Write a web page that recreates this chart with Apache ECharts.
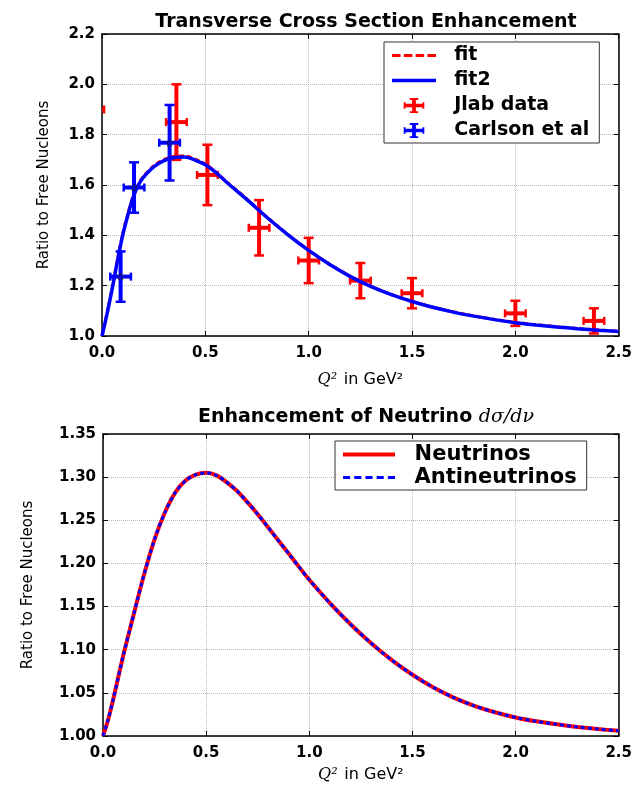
<!DOCTYPE html>
<html>
<head>
<meta charset="utf-8">
<script src="https://cdn.jsdelivr.net/npm/echarts@6.0.0/dist/echarts.min.js"></script>
<style>
html, body { margin: 0; padding: 0; background: #fff; }
#main { width: 635px; height: 790px; }
</style>
</head>
<body>
<div id="main"></div>
<script>
// top panel: measured points
var jlabQ2 = [-0.04, 0.36, 0.51, 0.76, 1.0, 1.25, 1.5, 2.0, 2.38];
var jlabRatio = [1.90, 1.85, 1.64, 1.43, 1.30, 1.22, 1.17, 1.09, 1.06];
var jlabQ2Err = [0.05, 0.05, 0.05, 0.05, 0.05, 0.05, 0.05, 0.05, 0.05];
var jlabRatioErr = [0.10, 0.15, 0.12, 0.11, 0.09, 0.07, 0.06, 0.05, 0.05];

var carlsonQ2 = [0.09, 0.155, 0.327];
var carlsonRatio = [1.236, 1.59, 1.768];
var carlsonQ2Err = [0.05, 0.05, 0.05];
var carlsonRatioErr = [0.10, 0.10, 0.15];

// top panel: fitted curves
var fitQ2 = [0.0, 0.025, 0.05, 0.075, 0.1, 0.125, 0.15, 0.175, 0.2, 0.25, 0.3, 0.35, 0.4, 0.45, 0.5, 0.55, 0.6, 0.7, 0.8, 0.9, 1.0, 1.1, 1.2, 1.3, 1.4, 1.5, 1.6, 1.7, 1.8, 1.9, 2.0, 2.1, 2.2, 2.3, 2.4, 2.5];
var fitRatio = [1.0, 1.095, 1.195, 1.305, 1.405, 1.485, 1.553, 1.601, 1.634, 1.676, 1.701, 1.714, 1.715, 1.703, 1.683, 1.652, 1.615, 1.545, 1.471, 1.403, 1.341, 1.286, 1.238, 1.198, 1.165, 1.138, 1.115, 1.096, 1.080, 1.066, 1.054, 1.045, 1.037, 1.030, 1.024, 1.019];
var fit2Ratio = [1.0, 1.09, 1.19, 1.30, 1.40, 1.48, 1.55, 1.598, 1.63, 1.672, 1.697, 1.709, 1.711, 1.699, 1.68, 1.65, 1.613, 1.543, 1.47, 1.402, 1.340, 1.285, 1.237, 1.197, 1.164, 1.137, 1.114, 1.095, 1.079, 1.065, 1.053, 1.044, 1.036, 1.029, 1.023, 1.018];

// bottom panel
var nuQ2 = [0.0, 0.025, 0.05, 0.1, 0.15, 0.2, 0.25, 0.3, 0.35, 0.4, 0.45, 0.5, 0.55, 0.6, 0.65, 0.7, 0.75, 0.8, 0.85, 0.9, 0.95, 1.0, 1.1, 1.2, 1.3, 1.4, 1.5, 1.6, 1.7, 1.8, 1.9, 2.0, 2.1, 2.2, 2.3, 2.4, 2.5];
var nuRatio = [1.0, 1.019, 1.043, 1.095, 1.142, 1.188, 1.228, 1.259, 1.282, 1.296, 1.303, 1.305, 1.302, 1.294, 1.284, 1.271, 1.257, 1.242, 1.2265, 1.2115, 1.196, 1.181, 1.154, 1.1295, 1.1075, 1.088, 1.071, 1.0565, 1.0445, 1.035, 1.0275, 1.0215, 1.017, 1.0135, 1.0105, 1.008, 1.006];
var antiNuRatio = [1.0, 1.019, 1.043, 1.095, 1.142, 1.188, 1.228, 1.259, 1.282, 1.296, 1.303, 1.305, 1.302, 1.294, 1.284, 1.271, 1.257, 1.242, 1.2265, 1.2115, 1.196, 1.181, 1.154, 1.1295, 1.1075, 1.088, 1.071, 1.0565, 1.0445, 1.035, 1.0275, 1.0215, 1.017, 1.0135, 1.0105, 1.008, 1.006];

function pairs(xs, ys) {
	return xs.map(function(x, i) { return [x, ys[i]]; });
}
function errRows(xs, ys, exs, eys) {
	return xs.map(function(x, i) { return [x, ys[i], exs[i], eys[i]]; });
}

function errorBars(color) {
	return function(params, api) {
		var x = api.value(0), y = api.value(1), ex = api.value(2), ey = api.value(3);
		var l = api.coord([x - ex, y]), r = api.coord([x + ex, y]);
		var t = api.coord([x, y + ey]), b = api.coord([x, y - ey]);
		var bar = { stroke: color, lineWidth: 4 };
		var cap = { stroke: color, lineWidth: 2.5 };
		function seg(x1, y1, x2, y2, st) {
			return { type: 'line', shape: { x1: x1, y1: y1, x2: x2, y2: y2 }, style: st };
		}
		return {
			type: 'group',
			children: [
				seg(t[0], t[1], b[0], b[1], bar),
				seg(l[0], l[1], r[0], r[1], bar),
				seg(t[0] - 5, t[1], t[0] + 5, t[1], cap),
				seg(b[0] - 5, b[1], b[0] + 5, b[1], cap),
				seg(l[0], l[1] - 4, l[0], l[1] + 4, cap),
				seg(r[0], r[1] - 4, r[0], r[1] + 4, cap)
			]
		};
	};
}

// legend glyphs
var errIcon = 'path://M9,0h4v16h-4z M6.5,0h9v2h-9z M6.5,14h9v2h-9z M0,6.2h22v3.6h-22z M0,4.5h2v7h-2z M20,4.5h2v7h-2z';
var solidIcon = 'path://M0,0h44v3.5h-44z';
var dashIcon = 'path://M0,0h8v3h-8z M11,0h8v3h-8z M22,0h8v3h-8z M33,0h8v3h-8z';
var dashIcon2 = 'path://M0,0h7v3h-7z M11,0h7v3h-7z M22,0h7v3h-7z M33,0h7v3h-7z M44,0h7v3h-7z';
var solidIcon2 = 'path://M0,0h52v4h-52z';
var starMark = 'path://M5,0L6.2,3.6L10,3.6L7,5.9L8.1,9.5L5,7.3L1.9,9.5L3,5.9L0,3.6L3.8,3.6Z';

var tickFont = { fontFamily: 'DejaVu Sans', fontWeight: 'bold', fontSize: 15, color: '#000' };
var gridDots = { type: 'dotted', color: '#b8b8b8', width: 1 };

function xAxes(grid, gap) {
	return [{
		gridIndex: grid, type: 'value', min: 0, max: 2.5, interval: 0.5,
		axisLine: { show: true, onZero: false, lineStyle: { color: '#000', width: 1.5 } },
		axisTick: { show: true, inside: true, length: 5, lineStyle: { color: '#000' } },
		axisLabel: Object.assign({ margin: 10, formatter: function(v) { return v.toFixed(1); } }, tickFont),
		splitLine: { show: true, lineStyle: gridDots },
		name: '{q|Q²}  {t|in GeV²}', nameLocation: 'middle', nameGap: gap,
		nameTextStyle: { rich: {
			q: { fontFamily: 'DejaVu Serif', fontStyle: 'italic', fontSize: 16, color: '#000' },
			t: { fontFamily: 'DejaVu Sans', fontSize: 16, color: '#000' }
		} }
	}, {
		gridIndex: grid, type: 'value', position: 'top', min: 0, max: 2.5, interval: 0.5,
		axisLine: { show: true, onZero: false, lineStyle: { color: '#000', width: 1.5 } },
		axisTick: { show: true, inside: true, length: 5, lineStyle: { color: '#000' } },
		axisLabel: { show: false }, splitLine: { show: false }
	}];
}

function yAxes(grid, min, max, step, digits, gap) {
	return [{
		gridIndex: grid, type: 'value', min: min, max: max, interval: step,
		axisLine: { show: true, onZero: false, lineStyle: { color: '#000', width: 1.5 } },
		axisTick: { show: true, inside: true, length: 5, lineStyle: { color: '#000' } },
		axisLabel: Object.assign({ margin: 7, formatter: function(v) { return v.toFixed(digits); } }, tickFont),
		splitLine: { show: true, lineStyle: gridDots },
		name: 'Ratio to Free Nucleons', nameLocation: 'middle', nameGap: gap,
		nameTextStyle: { fontFamily: 'DejaVu Sans', fontSize: 15, color: '#000' }
	}, {
		gridIndex: grid, type: 'value', position: 'right', min: min, max: max, interval: step,
		axisLine: { show: true, onZero: false, lineStyle: { color: '#000', width: 1.5 } },
		axisTick: { show: true, inside: true, length: 5, lineStyle: { color: '#000' } },
		axisLabel: { show: false }, splitLine: { show: false }
	}];
}

var legendText = function(size) {
	return { fontFamily: 'DejaVu Sans', fontWeight: 'bold', fontSize: size, color: '#000' };
};

var myChart = echarts.init(document.getElementById('main'));
var option = {
	backgroundColor: '#fff',
	animation: false,
	title: [{
		text: 'Transverse Cross Section Enhancement',
		left: 361, top: 8, textAlign: 'center',
		textStyle: { fontFamily: 'DejaVu Sans', fontWeight: 'bold', fontSize: 19, color: '#000' }
	}, {
		text: '{b|Enhancement of Neutrino }{m|dσ/dν}',
		left: 361, top: 403, textAlign: 'center',
		textStyle: { rich: {
			b: { fontFamily: 'DejaVu Sans', fontWeight: 'bold', fontSize: 19, color: '#000' },
			m: { fontFamily: 'DejaVu Serif', fontStyle: 'italic', fontWeight: 'normal', fontSize: 19, color: '#000' }
		} }
	}],
	grid: [
		{ left: 102, top: 34, width: 518, height: 302 },
		{ left: 103, top: 434, width: 517, height: 302 }
	],
	xAxis: xAxes(0, 36).concat(xAxes(1, 31)),
	yAxis: yAxes(0, 1.0, 2.2, 0.2, 1, 50).concat(yAxes(1, 1.0, 1.35, 0.05, 2, 67)),
	legend: [{
		orient: 'vertical', left: 384, top: 42,
		backgroundColor: '#fff', borderColor: '#333', borderWidth: 1, borderRadius: 0,
		padding: [4, 10, 3, 8], itemWidth: 44, itemHeight: 15, itemGap: 6,
		textStyle: legendText(19),
		formatter: function(n) { return '  ' + n; },
		data: [
			{ name: 'fit', icon: dashIcon },
			{ name: 'fit2', icon: solidIcon },
			{ name: 'Jlab data', icon: errIcon },
			{ name: 'Carlson et al', icon: errIcon }
		]
	}, {
		orient: 'vertical', left: 335, top: 441,
		backgroundColor: '#fff', borderColor: '#333', borderWidth: 1, borderRadius: 0,
		padding: [3, 10, 2, 8], itemWidth: 52, itemHeight: 15, itemGap: 2,
		textStyle: legendText(21),
		formatter: function(n) { return '  ' + n; },
		data: [
			{ name: 'Neutrinos', icon: solidIcon2 },
			{ name: 'Antineutrinos', icon: dashIcon2 }
		]
	}],
	series: [{
		name: 'Jlab data', type: 'custom', xAxisIndex: 0, yAxisIndex: 0, z: 2,
		clip: true, itemStyle: { color: '#ff0000' },
		renderItem: errorBars('#ff0000'),
		encode: { x: 0, y: 1 },
		data: errRows(jlabQ2, jlabRatio, jlabQ2Err, jlabRatioErr)
	}, {
		name: 'fit', type: 'line', xAxisIndex: 0, yAxisIndex: 0, z: 3,
		symbol: 'none', showSymbol: false, smooth: 0.3, color: '#ff0000',
		lineStyle: { color: '#ff0000', width: 3, type: [5, 3] },
		data: pairs(fitQ2, fitRatio)
	}, {
		name: 'fit2', type: 'line', xAxisIndex: 0, yAxisIndex: 0, z: 4,
		symbol: 'none', showSymbol: false, smooth: 0.3, color: '#0000ff',
		lineStyle: { color: '#0000ff', width: 3.5 },
		data: pairs(fitQ2, fit2Ratio)
	}, {
		name: 'Carlson et al', type: 'custom', xAxisIndex: 0, yAxisIndex: 0, z: 5,
		clip: true, itemStyle: { color: '#0000ff' },
		renderItem: errorBars('#0000ff'),
		encode: { x: 0, y: 1 },
		data: errRows(carlsonQ2, carlsonRatio, carlsonQ2Err, carlsonRatioErr)
	}, {
		name: 'Carlson centres', type: 'scatter', xAxisIndex: 0, yAxisIndex: 0, z: 6,
		symbol: starMark, symbolSize: 7, silent: true,
		itemStyle: { color: '#0000ff', borderColor: '#222', borderWidth: 0.8 },
		data: pairs(carlsonQ2, carlsonRatio)
	}, {
		name: 'Neutrinos', type: 'line', xAxisIndex: 2, yAxisIndex: 2, z: 3,
		symbol: 'none', showSymbol: false, smooth: 0.3, color: '#ff0000',
		lineStyle: { color: '#ff0000', width: 4 },
		data: pairs(nuQ2, nuRatio)
	}, {
		name: 'Antineutrinos', type: 'line', xAxisIndex: 2, yAxisIndex: 2, z: 4,
		symbol: 'none', showSymbol: false, smooth: 0.3, color: '#0000ff',
		lineStyle: { color: '#0000ff', width: 3, type: [4, 3] },
		data: pairs(nuQ2, antiNuRatio)
	}]
};
myChart.setOption(option);
</script>
</body>
</html>
